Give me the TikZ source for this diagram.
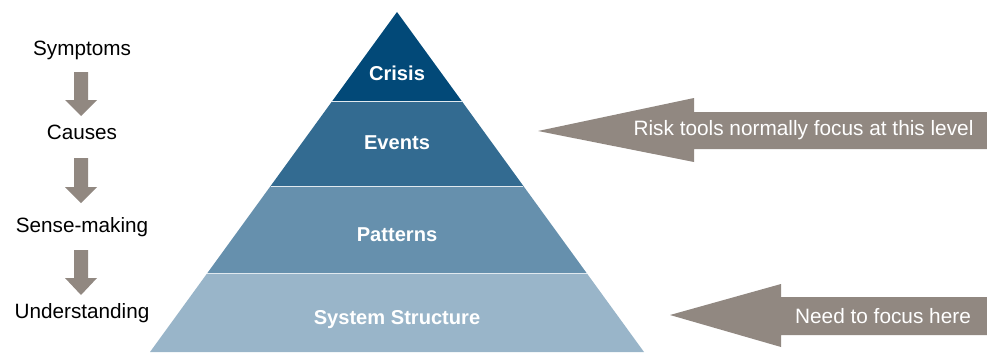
\documentclass[tikz,border=0pt]{standalone}
\usepackage{fontspec}
\setmainfont{Liberation Sans}
\definecolor{cCrisis}{RGB}{2,73,120}
\definecolor{cEvents}{RGB}{51,107,145}
\definecolor{cPatterns}{RGB}{102,144,173}
\definecolor{cSystem}{RGB}{153,181,201}
\definecolor{cGrey}{RGB}{145,136,129}
\tikzset{
  lefttext/.style={font=\fontsize{20.7}{24}\selectfont, text=black, inner sep=0pt},
  pyrtext/.style={font=\fontsize{20.1}{24}\selectfont\bfseries, text=white, inner sep=0pt},
  arrtext/.style={font=\fontsize{20.8}{24}\selectfont, text=white, inner sep=0pt},
  blockarrow/.style={fill=cGrey, draw=none},
}
\begin{document}
\begin{tikzpicture}[x=1pt,y=-1pt]
\useasboundingbox (0,0) rectangle (987,353);
% pyramid bands
\fill[cCrisis]   (397,12) -- (332.3,101) -- (461.7,101) -- cycle;
\fill[cEvents]   (332.3,101) -- (270.6,186) -- (523.4,186) -- (461.7,101) -- cycle;
\fill[cPatterns] (270.6,186) -- (207.4,273) -- (586.6,273) -- (523.4,186) -- cycle;
\fill[cSystem]   (207.4,273) -- (150,352) -- (644,352) -- (586.6,273) -- cycle;
\draw[white!70!cSystem, line width=0.4pt] (332.3,101) -- (461.7,101);
\draw[white!70!cSystem, line width=0.4pt] (270.6,186) -- (523.4,186);
\draw[white!70!cSystem, line width=0.4pt] (207.4,273) -- (586.6,273);
\node[pyrtext] (crisis) at (397,73) {Crisis};
\node[pyrtext] (events) at (397,143) {Events};
\node[pyrtext] (patterns) at (397,235) {Patterns};
\node[pyrtext] (system) at (397,320) {System Structure};
% left column
\node[lefttext] (symptoms) at (82,50) {Symptoms};
\node[lefttext] (causes) at (82,132) {Causes};
\node[lefttext] (sense) at (82,227) {Sense-making};
\node[lefttext] (understanding) at (82,313) {Understanding};
\foreach \t/\h/\b in {72/100/116, 158/187/203, 250/278/295}{
  \fill[blockarrow] (74,\t) -- (88,\t) -- (88,\h) -- (97,\h) -- (81,\b) -- (65,\h) -- (74,\h) -- cycle;
}
% right arrows
\fill[blockarrow] (538,131) -- (694,98) -- (694,112) -- (987,112) -- (987,149) -- (694,149) -- (694,162) -- cycle;
\node[arrtext] (risk) at (803.5,130) {Risk tools normally focus at this level};
\fill[blockarrow] (670,315) -- (781,284) -- (781,297) -- (987,297) -- (987,335) -- (781,335) -- (781,347) -- cycle;
\node[arrtext] (need) at (883,316) {Need to focus here};
\end{tikzpicture}
\end{document}
